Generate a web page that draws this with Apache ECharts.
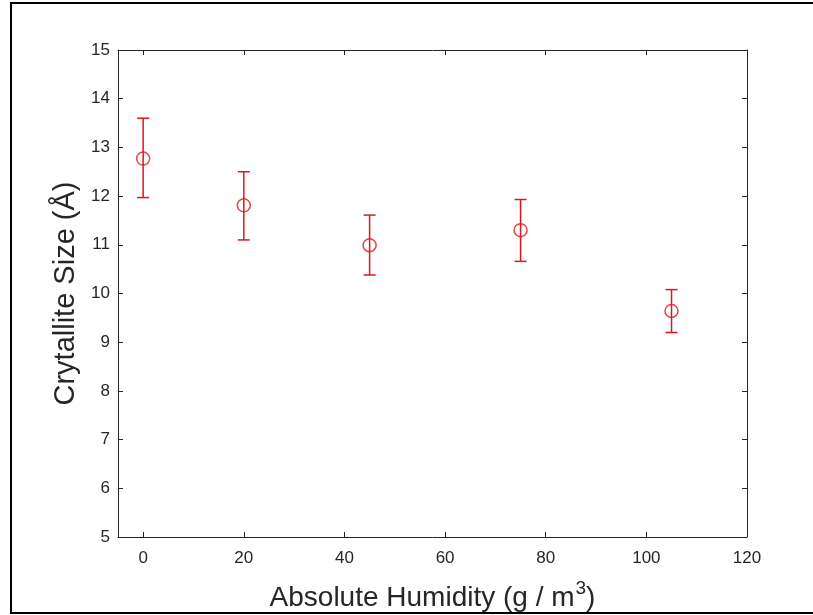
<!DOCTYPE html>
<html>
<head>
    <meta charset="utf-8">
    <title>Crystallite size</title>
    <script src="https://cdn.jsdelivr.net/npm/echarts@6/dist/echarts.min.js"></script>
    <style>
        html, body { margin: 0; padding: 0; background: #fff; }
        #main { width: 813px; height: 615px; }
    </style>
</head>
<body>
    <div id="main"></div>
    <script type="text/javascript">
        // values
        var humidity = [0, 20, 45, 75, 105];
        var crystSize = [12.77, 11.81, 10.99, 11.30, 9.64];
        var upperBar = [13.60, 12.50, 11.61, 11.93, 10.08];
        var lowerBar = [11.97, 11.10, 10.38, 10.66, 9.20];
        var xTicks = [0, 20, 40, 60, 80, 100, 120];

        var red = '#e0161e';
        var axisCol = '#262626';
        var font = 'Liberation Sans, Arial, sans-serif';

        var points = humidity.map(function (h, i) { return [h, crystSize[i]]; });
        var bars = humidity.map(function (h, i) { return [h, lowerBar[i], upperBar[i]]; });

        var chart = echarts.init(document.getElementById('main'));

        // plain box axis, ticks pointing inward like matlab
        function boxAxis(extra) {
            return Object.assign({
                type: 'value',
                axisLine: { show: true, onZero: false, lineStyle: { color: axisCol, width: 1 } },
                axisTick: { show: true, inside: true, length: 5, lineStyle: { color: axisCol } },
                splitLine: { show: false },
                axisLabel: { show: false }
            }, extra);
        }

        var option = {
            animation: false,
            backgroundColor: '#fff',
            grid: { left: 118, right: 66, top: 50, bottom: 78, outerBoundsMode: 'none' },
            xAxis: [
                boxAxis({
                    min: -5, max: 120, position: 'bottom',
                    axisTick: { show: true, inside: true, length: 5, customValues: xTicks, lineStyle: { color: axisCol } },
                    axisLabel: { show: true, customValues: xTicks, color: axisCol, fontSize: 17, fontFamily: font, margin: 13 },
                    name: '{t|Absolute Humidity (g / m}{sup|3}{t|)}',
                    nameLocation: 'middle',
                    nameGap: 42,
                    nameTextStyle: {
                        rich: {
                            t: { fontSize: 28, fontFamily: font, color: axisCol },
                            sup: { fontSize: 19, fontFamily: font, color: axisCol, padding: [0, 0, 19, 1] }
                        }
                    }
                }),
                boxAxis({
                    min: -5, max: 120, position: 'top',
                    axisTick: { show: true, inside: true, length: 5, customValues: xTicks, lineStyle: { color: axisCol } }
                })
            ],
            yAxis: [
                boxAxis({
                    min: 5, max: 15, interval: 1, position: 'left',
                    axisLabel: { show: true, color: axisCol, fontSize: 17, fontFamily: font, margin: 8 },
                    name: 'Crytallite Size (Å)',
                    nameLocation: 'middle',
                    nameGap: 36,
                    nameTextStyle: { fontSize: 29, fontFamily: font, color: axisCol }
                }),
                boxAxis({ min: 5, max: 15, interval: 1, position: 'right' })
            ],
            graphic: [
                { type: 'line', shape: { x1: 11, y1: 3, x2: 11, y2: 614 }, style: { stroke: '#000', lineWidth: 2 } },
                { type: 'line', shape: { x1: 10, y1: 3, x2: 813, y2: 3 }, style: { stroke: '#000', lineWidth: 2 } },
                { type: 'line', shape: { x1: 10, y1: 613, x2: 813, y2: 613 }, style: { stroke: '#000', lineWidth: 2 } }
            ],
            series: [
                {
                    type: 'custom',
                    data: bars,
                    renderItem: function (params, api) {
                        var x = api.value(0);
                        var lo = api.coord([x, api.value(1)]);
                        var hi = api.coord([x, api.value(2)]);
                        var cw = 6;
                        var st = { stroke: red, lineWidth: 1.5 };
                        return {
                            type: 'group',
                            children: [
                                { type: 'line', shape: { x1: lo[0], y1: lo[1], x2: hi[0], y2: hi[1] }, style: st },
                                { type: 'line', shape: { x1: hi[0] - cw, y1: hi[1], x2: hi[0] + cw, y2: hi[1] }, style: st },
                                { type: 'line', shape: { x1: lo[0] - cw, y1: lo[1], x2: lo[0] + cw, y2: lo[1] }, style: st }
                            ]
                        };
                    },
                    z: 2
                },
                {
                    type: 'scatter',
                    data: points,
                    symbol: 'circle',
                    symbolSize: 13,
                    itemStyle: { color: 'rgba(0,0,0,0)', borderColor: red, borderWidth: 1.5 },
                    z: 3
                }
            ]
        };

        chart.setOption(option);
    </script>
</body>
</html>
